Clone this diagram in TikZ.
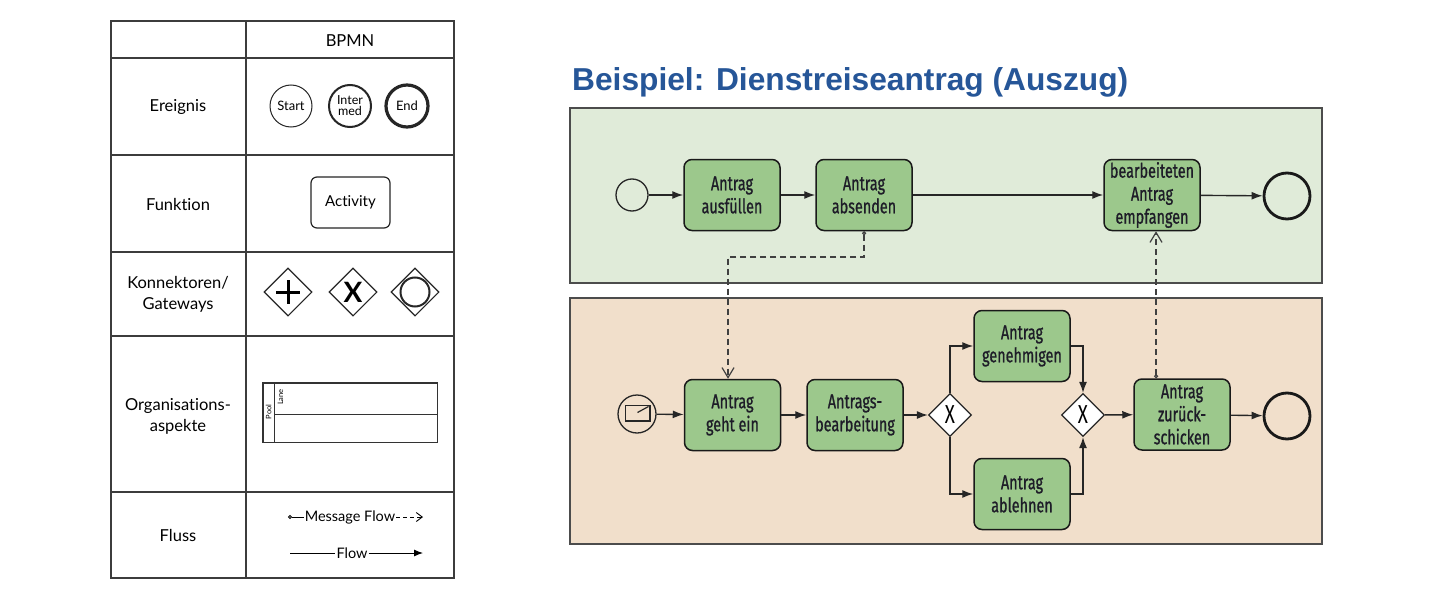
\documentclass[tikz,border=0pt]{standalone}
\usepackage{fontspec}
\setmainfont[Ligatures=NoCommon]{Lato}
\newfontfamily\condfont[FakeStretch=0.72,FakeBold=0.9]{Fira Sans}
\newfontfamily\condthin[FakeStretch=0.72]{Fira Sans}
\newfontfamily\titlefont{Liberation Sans}
\usetikzlibrary{arrows.meta,shapes.geometric,calc}
\definecolor{poolgreen}{RGB}{224,235,217}
\definecolor{poolpeach}{RGB}{241,223,203}
\definecolor{boxgreen}{RGB}{156,200,140}
\definecolor{titleblue}{RGB}{38,86,152}
\definecolor{linegray}{RGB}{60,60,60}
\definecolor{textdark}{RGB}{30,28,40}
\tikzset{
  tline/.style={draw=linegray, line width=1.6pt},
  tlabel/.style={font=\fontsize{16.5}{21}\selectfont, align=center, text=black},
  evt/.style={circle, draw=black!85, minimum size=42pt, inner sep=0pt, align=center, font=\fontsize{13}{12}\selectfont},
  gwleft/.style={diamond, draw=black!85, line width=1.1pt, minimum width=48pt, minimum height=48pt, inner sep=0pt, aspect=1},
  gwright/.style={diamond, draw=black!85, line width=1.2pt, fill=white, minimum width=43pt, minimum height=43pt, inner sep=0pt, aspect=1, font=\condthin\fontsize{26}{26}\selectfont},
  task/.style={draw=black!90, line width=1.5pt, rounded corners=8pt, fill=boxgreen, minimum width=96pt, minimum height=71pt, align=center, inner sep=0pt, font=\condfont\fontsize{20}{23}\selectfont, text=textdark},
  pool/.style={draw=black!70, line width=1.5pt},
  flow/.style={line width=1.4pt, draw=black!85, -{Latex[length=11pt,width=8pt]}},
  msg/.style={line width=1.2pt, draw=black!75, dash pattern=on 6pt off 4pt, {Circle[open,length=4pt,width=4pt]}-{Straight Barb[length=10pt,width=12pt]}},
  startev/.style={circle, draw=black!85, line width=1.3pt, inner sep=0pt},
  endev/.style={circle, draw=black!90, line width=2.8pt, inner sep=0pt, minimum size=46pt},
  smalltxt/.style={font=\fontsize{14.5}{16}\selectfont, inner sep=1pt, text=black}
}
\begin{document}
\begin{tikzpicture}[x=1pt,y=-1pt]
\useasboundingbox (0,0) rectangle (1443,610);
\fill[white] (0,0) rectangle (1443,610);

% ---------------- left table ----------------
\draw[tline] (111,21) rectangle (454,578);
\draw[tline] (246,21) -- (246,578);
\foreach \yy in {58,155,252,336,492} \draw[tline] (111,\yy) -- (454,\yy);

\node[tlabel] (hbpmn) at (350,41) {BPMN};
\node[tlabel] (lereignis) at (178,107) {Ereignis};
\node[tlabel] (lfunktion) at (178,204) {Funktion};
\node[tlabel] (lkonn) at (178,294) {Konnektoren/\\Gateways};
\node[tlabel] (lorga) at (178,416) {Organisations-\\aspekte};
\node[tlabel] (lfluss) at (178,535) {Fluss};

\node[evt, line width=1pt] (evstart) at (291,106) {Start};
\node[evt, line width=2pt, font=\fontsize{12.5}{11}\selectfont] (evinter) at (350,106) {Inter\\med};
\node[evt, line width=3.2pt] (evend) at (407,106) {End};

\node[draw=black!85, line width=1.2pt, rounded corners=6pt, minimum width=79pt, minimum height=51pt, font=\fontsize{15}{16}\selectfont] (activity) at (350.5,202.5) {Activity};

\node[gwleft] (gplus) at (288,292) {};
\draw[line width=3pt] (gplus.center) ++(-12,0) -- ++(24,0);
\draw[line width=3pt] (gplus.center) ++(0,-12) -- ++(0,24);
\node[gwleft, font=\bfseries\fontsize{28}{28}\selectfont] (gxor) at (353,292) {X};
\node[gwleft] (gor) at (415,292) {};
\node[circle, draw=black!85, line width=2pt, minimum size=29pt, inner sep=0pt] (gorc) at (gor.center) {};

\draw[line width=1.2pt, draw=black!80] (263,383) rectangle (437.7,442.7);
\draw[line width=1.2pt, draw=black!80] (274.3,383) -- (274.3,442.7);
\draw[line width=1.2pt, draw=black!80] (274.3,414.3) -- (437.7,414.3);
\node[rotate=90, font=\fontsize{7.5}{8}\selectfont, inner sep=0pt] (lpool) at (268.6,412) {Pool};
\node[rotate=90, font=\fontsize{7.5}{8}\selectfont, inner sep=0pt] (llane) at (280.5,397) {Lane};

\node[smalltxt] (tmsg) at (350,517) {Message Flow};
\coordinate (msgstart) at (288,517);
\coordinate (msgend) at (423,517);
\draw[line width=0.9pt, {Circle[open,length=4pt,width=4pt]}-] (msgstart) -- (tmsg.west);
\draw[line width=0.9pt, dash pattern=on 4pt off 3pt, -{Straight Barb[length=6pt,width=9pt]}] (tmsg.east) -- (msgend);
\node[smalltxt] (tflow) at (352,553) {Flow};
\coordinate (flowstart) at (290,553);
\coordinate (flowend) at (423,553);
\draw[line width=0.9pt] (flowstart) -- (tflow.west);
\draw[line width=0.9pt, -{Latex[length=9pt,width=7pt]}] (tflow.east) -- (flowend);

% ---------------- title ----------------
\node[anchor=base west, inner sep=0pt, font=\titlefont\bfseries\fontsize{31.7}{36}\selectfont, text=titleblue] (title) at (572,91) {Beispiel: Dienstreiseantrag (Auszug)};

% ---------------- pools ----------------
\draw[pool, fill=poolgreen] (570,108) rectangle (1322,283);
\draw[pool, fill=poolpeach] (570,298) rectangle (1322,544);

% top pool
\node[startev, minimum size=32pt] (s1) at (632,195) {};
\node[task] (a1) at (732,195) {Antrag\\ausfüllen};
\node[task] (a2) at (864,195) {Antrag\\absenden};
\node[task] (a3) at (1152,195) {bearbeiteten\\Antrag\\empfangen};
\node[endev] (e1) at (1287,196) {};
\draw[flow] (s1) -- (a1);
\draw[flow] (a1) -- (a2);
\draw[flow] (a2) -- (a3);
\draw[flow] (a3) -- (e1);

% bottom pool
\node[startev, minimum size=38pt] (s2) at (637,414) {};
\draw[line width=1.4pt, draw=black!85] (625.5,405.5) rectangle (650,421);
\draw[line width=1.2pt, draw=black!85] (637.5,412.5) -- (648.5,406.5);
\node[task] (b1) at (732.5,415) {Antrag\\geht ein};
\node[task] (b2) at (855,415) {Antrags-\\bearbeitung};
\node[gwright] (g1) at (950,415) {X};
\node[task] (b3) at (1022,346) {Antrag\\genehmigen};
\node[task] (b4) at (1022,494) {Antrag\\ablehnen};
\node[gwright] (g2) at (1083,415) {X};
\node[task] (b5) at (1182,414.5) {Antrag\\zurück-\\schicken};
\node[endev] (e2) at (1287,416) {};
\draw[flow] (s2) -- (b1);
\draw[flow] (b1) -- (b2);
\draw[flow] (b2) -- (g1);
\draw[flow] (g1.north) |- (b3.west);
\draw[flow] (g1.south) |- (b4.west);
\draw[flow] (b3.east) -| (g2.north);
\draw[flow] (b4.east) -| (g2.south);
\draw[flow] (g2) -- (b5);
\draw[flow] (b5) -- (e2);

% message flows
\coordinate (m1) at (728,257);
\draw[msg] (a2.south) |- (m1) -- (m1 |- b1.north);
\coordinate (m2) at ([xshift=-26pt]b5.north);
\draw[msg] (m2) -- (m2 |- a3.south);
\end{tikzpicture}
\end{document}
